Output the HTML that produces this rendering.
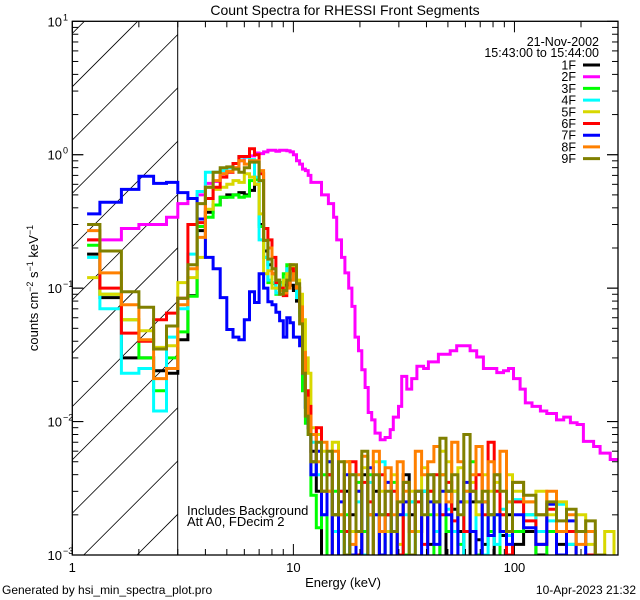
<!DOCTYPE html>
<html><head><meta charset="utf-8">
<style>
html,body{margin:0;padding:0;background:#fff;}
svg{display:block;font-family:"Liberation Sans",sans-serif;}
</style></head>
<body>
<svg id="chart" width="640" height="600" viewBox="0 0 640 600">
  <defs>
    <clipPath id="plotClip"><rect x="72.3" y="21.3" width="545.7" height="533.7"/></clipPath>
    <clipPath id="hatchClip"><rect x="72.3" y="21.3" width="105.4" height="533.7"/></clipPath>
  </defs>
  <rect x="0" y="0" width="640" height="600" fill="#fff"/>
  <text x="345" y="15" font-size="14" text-anchor="middle">Count Spectra for RHESSI Front Segments</text>
  <g id="hatch" clip-path="url(#hatchClip)"></g>
  <line x1="177.7" y1="21.3" x2="177.7" y2="555" stroke="#000" stroke-width="1"/>
  <g id="series" clip-path="url(#plotClip)"></g>
  <rect x="72.3" y="21.3" width="545.7" height="533.7" fill="none" stroke="#000" stroke-width="1.3"/>
  <g id="axes"></g>
  <text x="343" y="587" font-size="13" text-anchor="middle">Energy (keV)</text>
  <text transform="translate(38,288) rotate(-90)" font-size="13" text-anchor="middle">counts cm<tspan dy="-5" font-size="9">−2</tspan><tspan dy="5"> s</tspan><tspan dy="-5" font-size="9">−1</tspan><tspan dy="5"> keV</tspan><tspan dy="-5" font-size="9">−1</tspan></text>
  <text x="187" y="515" font-size="13">Includes Background</text>
  <text x="187" y="526" font-size="13">Att A0, FDecim 2</text>
  <text x="599" y="46" font-size="12.5" text-anchor="end">21-Nov-2002</text>
  <text x="599" y="57" font-size="12.5" text-anchor="end">15:43:00 to 15:44:00</text>
  <g id="legend"></g>
  <text x="2" y="594" font-size="12">Generated by hsi_min_spectra_plot.pro</text>
  <text x="636" y="594" font-size="12" text-anchor="end">10-Apr-2023 21:32</text>
</svg>
<script>
// ---- data ----
const seriesNames = ["1F","2F","3F","4F","5F","6F","7F","8F","9F"];
const seriesColors = ["#000000","#ff00ff","#00ff00","#00ffff","#d8d800","#ff0000","#0000ff","#ff8000","#808000"];
const eLow = [1.167,1.333,1.667,2,2.333,2.667,3,3.333,3.667,4,4.333,4.667,5,5.333,5.667,6,6.333,6.667,7,7.333,7.667,8,8.333,8.667,9,9.333,9.667,10,10.333,10.667,11,11.333,11.667,12];
const eHigh = [12,12.7,13.4,14.2,15,16,17,18,19.2,20.4,21.7,23,24.5,26,27.7,29.5,31.4,33.4,35.6,38,40.5,43.2,46,49,52,55.5,59,63,67,71.5,76,81,86,92,98,110,125,140,155,172,190,210,232,256,282,300];
const e2FHigh = [12,13.4,14.4,15.2,15.7,16.5,17.1,17.8,18.4,19.0,19.7,20.4,21.1,21.8,22.6,23.4,24.7,26.0,27.4,28.3,29.9,30.9,32.6,34.3,36.2,38.8,40.8,45.3,51.2,54.8,58.7,63.0,67.5,72.4,77.6,83.2,89.2,94.0,99,106,112,120,131,140,155,167,179,192,205,228,244,271,301];

const low1F = [0.18,0.085,0.03,0.03,0.024,0.023,0.041,0.088,0.27,0.37,0.42,0.48,0.5,0.5,0.52,0.5,0.54,0.6,0.3,0.19,0.15,0.128,0.1,0.11,0.105,0.128,0.105,0.096,0.08,0.066,0.023,0.0128,0.009];
const low2F = [0.23,0.23,0.28,0.30,0.30,0.34,0.43,0.47,0.5,0.61,0.63,0.72,0.75,0.8,0.9,0.96,0.98,1.03,1.02,1.05,1.08,1.08,1.06,1.08,1.08,1.07,1.05,1.0,0.9,0.85,0.78,0.76,0.7];
const low3F = [0.21,0.09,0.058,0.03,0.017,0.03,0.047,0.087,0.29,0.34,0.42,0.48,0.48,0.5,0.48,0.49,0.64,0.65,0.29,0.17,0.11,0.108,0.09,0.11,0.128,0.15,0.14,0.128,0.092,0.066,0.017,0.0097,0.008];
const low4F = [0.17,0.07,0.023,0.025,0.012,0.043,0.07,0.18,0.53,0.74,0.74,0.76,0.8,0.86,0.96,0.96,0.92,0.68,0.23,0.17,0.115,0.11,0.092,0.105,0.115,0.14,0.128,0.115,0.085,0.062,0.023,0.0128,0.0097];
const low5F = [0.12,0.09,0.058,0.048,0.036,0.037,0.11,0.12,0.17,0.39,0.55,0.57,0.6,0.64,0.62,0.72,0.68,0.6,0.36,0.128,0.135,0.1,0.1,0.096,0.115,0.128,0.15,0.14,0.115,0.09,0.058,0.03,0.023];
const low6F = [0.23,0.1,0.046,0.04,0.058,0.065,0.084,0.30,0.31,0.47,0.57,0.68,0.74,0.86,0.97,0.97,1.11,1.0,0.72,0.28,0.23,0.17,0.11,0.1,0.088,0.11,0.14,0.13,0.1,0.072,0.03,0.017,0.013];
const low7F = [0.36,0.44,0.55,0.69,0.61,0.62,0.52,0.47,0.33,0.17,0.14,0.085,0.049,0.043,0.041,0.058,0.094,0.078,0.128,0.1,0.079,0.075,0.066,0.057,0.043,0.06,0.055,0.043,0.043,0.037,0.023,0.0128,0.009];
const low8F = [0.27,0.13,0.075,0.041,0.021,0.025,0.075,0.14,0.24,0.57,0.64,0.72,0.75,0.8,0.9,0.85,0.9,0.9,0.76,0.228,0.2,0.128,0.115,0.096,0.092,0.1,0.115,0.128,0.1,0.072,0.033,0.015,0.011];
const low9F = [0.30,0.19,0.094,0.072,0.035,0.052,0.084,0.15,0.43,0.57,0.74,0.8,0.81,0.78,0.74,0.8,0.88,0.88,0.64,0.228,0.165,0.14,0.115,0.09,0.096,0.115,0.15,0.15,0.108,0.054,0.023,0.011,0.008];

const high1F = [0.006,0.003,0.0005,0.004,0.002,0.0005,0.003,0.002,0.0006,0.004,0.002,0.003,0.0005,0.002,0.0015,0.0008,0.004,0.002,0.0015,0.003,0.0012,0.0025,0.0006,0.003,0.0022,0.0015,0.0007,0.0025,0.0013,0.0012,0.002,0.0008,0.0014,0.002,0.0012,0.0015,0.001,0.0006,0.0012,0.0007,0.0008,0.0005,0.0006,0.0004,0.0003];
const high2F = [0.62,0.5,0.43,0.34,0.23,0.17,0.13,0.10,0.073,0.043,0.034,0.0245,0.018,0.0117,0.0103,0.0082,0.0073,0.0076,0.0087,0.0108,0.013,0.0218,0.0175,0.021,0.026,0.025,0.028,0.032,0.034,0.037,0.037,0.034,0.0305,0.025,0.025,0.0233,0.024,0.025,0.021,0.0175,0.0138,0.013,0.012,0.0115,0.0103,0.0108,0.0098,0.0095,0.0071,0.0065,0.0058,0.0052];
const high3F = [0.0028,0.0016,0.004,0.0005,0.003,0.0015,0.002,0.0006,0.0035,0.0015,0.004,0.0008,0.002,0.0005,0.0035,0.002,0.001,0.0025,0.0015,0.003,0.002,0.0009,0.004,0.0015,0.003,0.0012,0.0025,0.005,0.001,0.0025,0.0015,0.002,0.0007,0.0025,0.0015,0.002,0.0008,0.0015,0.0006,0.0012,0.0005,0.0009,0.0004,0.0006,0.0003];
const high4F = [0.007,0.004,0.002,0.005,0.0015,0.003,0.0009,0.004,0.0025,0.001,0.0035,0.002,0.005,0.0015,0.003,0.001,0.002,0.0025,0.0008,0.003,0.004,0.0015,0.002,0.0022,0.0015,0.0008,0.003,0.0015,0.0025,0.001,0.002,0.0012,0.0022,0.0014,0.0026,0.002,0.0015,0.0018,0.0024,0.0012,0.0015,0.0008,0.0006,0.0005,0.0004];
const high5F = [0.009,0.008,0.006,0.003,0.007,0.002,0.005,0.0015,0.003,0.0045,0.002,0.005,0.003,0.0015,0.004,0.0012,0.0025,0.003,0.0015,0.0045,0.003,0.002,0.006,0.005,0.003,0.0045,0.0025,0.0035,0.002,0.004,0.003,0.0035,0.002,0.004,0.003,0.0025,0.003,0.002,0.0025,0.0015,0.002,0.0012,0.001,0.0015,0.0008];
const high6F = [0.005,0.009,0.003,0.004,0.0007,0.003,0.0015,0.005,0.001,0.0035,0.0025,0.0006,0.004,0.002,0.003,0.001,0.0035,0.0015,0.0025,0.0012,0.003,0.004,0.002,0.0035,0.0018,0.0025,0.0015,0.003,0.004,0.002,0.007,0.003,0.002,0.001,0.0025,0.0018,0.0012,0.0022,0.001,0.0015,0.0008,0.001,0.0005,0.0006,0.0004];
const high7F = [0.004,0.006,0.002,0.005,0.0005,0.0025,0.004,0.001,0.003,0.0006,0.0045,0.002,0.001,0.0035,0.0005,0.002,0.0025,0.0015,0.003,0.0008,0.0025,0.0012,0.003,0.002,0.0007,0.0025,0.0035,0.0015,0.0009,0.0025,0.0014,0.002,0.0015,0.0012,0.002,0.0016,0.0012,0.0024,0.001,0.0018,0.0009,0.0015,0.0006,0.0005,0.0004];
const high8F = [0.008,0.005,0.007,0.003,0.006,0.002,0.005,0.0012,0.004,0.0055,0.002,0.006,0.0015,0.0045,0.002,0.005,0.003,0.0015,0.006,0.004,0.005,0.0065,0.004,0.0025,0.007,0.005,0.003,0.004,0.0065,0.0025,0.005,0.004,0.006,0.0025,0.0035,0.0025,0.002,0.003,0.0015,0.002,0.0012,0.0015,0.001,0.0008,0.0006];
const high9F = [0.005,0.007,0.003,0.006,0.002,0.005,0.001,0.004,0.0015,0.006,0.0008,0.004,0.002,0.003,0.0015,0.0025,0.0035,0.001,0.003,0.002,0.004,0.0025,0.0075,0.003,0.004,0.002,0.008,0.003,0.0025,0.003,0.002,0.004,0.003,0.0015,0.0035,0.0028,0.002,0.0025,0.0018,0.0022,0.0015,0.0018,0.001,0.0008,0.0005];

const xMajorTicks = [1,10,100];
const xTickLabels = ["1","10","100"];
const yMajorTicks = [1e-3,1e-2,1e-1,1,10];
const yTickExponents = ["−3","−2","−1","0","1"];

// ---- axis functions ----
const X0=72.3, X1=618, Y0=21.3, Y1=555;
const xLogMin=0, xLogMax=Math.log10(294);
const yLogMin=-3, yLogMax=1;
function xs(e){return X0+(Math.log10(e)-xLogMin)/(xLogMax-xLogMin)*(X1-X0);}
function ys(v){return Y1-(Math.log10(Math.max(v,1e-5))-yLogMin)/(yLogMax-yLogMin)*(Y1-Y0);}
const NS="http://www.w3.org/2000/svg";
function mk(tag,attrs,parent){const el=document.createElementNS(NS,tag);for(const k in attrs)el.setAttribute(k,attrs[k]);parent.appendChild(el);return el;}

// hatch
const hatch=document.getElementById('hatch');
for(let k=-2;k<=12;k++){
  const c=159+53.3*k;
  const ln=mk('line',{x1:c-600,y1:600,x2:c,y2:0,stroke:'#000','stroke-width':0.8},hatch);
  
  
}

// series
const lowSets=[low1F,low2F,low3F,low4F,low5F,low6F,low7F,low8F,low9F];
const highSets=[high1F,high2F,high3F,high4F,high5F,high6F,high7F,high8F,high9F];
function stepPath(edges,vals){
  let d='';
  const n=Math.min(vals.length,edges.length-1);
  for(let i=0;i<n;i++){
    const xa=xs(edges[i]).toFixed(1), xb=xs(edges[i+1]).toFixed(1), y=ys(vals[i]).toFixed(1);
    d+= (i===0?'M'+xa+','+y:'V'+y)+'H'+xb;
  }
  return d;
}
const sg=document.getElementById('series');
for(let s=0;s<seriesNames.length;s++){
  const hiEdges = s===1 ? e2FHigh : eHigh;
  const d=stepPath(eLow,lowSets[s])+stepPath(hiEdges,highSets[s]).replace(/^M/,'L');
  const p=mk('path',{d:d,fill:'none',stroke:seriesColors[s],'stroke-width':3,'stroke-linejoin':'miter'},sg);
  
  
}

// axes ticks
const ax=document.getElementById('axes');
for(let dec=0;dec<=2;dec++){
  for(let m=1;m<=9;m++){
    const e=m*Math.pow(10,dec);
    if(e>294)continue;
    const x=xs(e), L=(m===1)?11:6;
    const t1=mk('line',{x1:x,y1:Y1,x2:x,y2:Y1-L,stroke:'#000','stroke-width':1},ax);
    
    
    const t2=mk('line',{x1:x,y1:Y0,x2:x,y2:Y0+L,stroke:'#000','stroke-width':1},ax);
    
    
  }
}
xMajorTicks.forEach((e,i)=>{
  const t=mk('text',{x:xs(e),y:572,'font-size':13,'text-anchor':'middle'},ax);
  t.textContent=xTickLabels[i];
  
  
});
for(let dec=-3;dec<=0;dec++){
  for(let m=1;m<=10;m++){
    const v=m*Math.pow(10,dec);
    const y=ys(v), L=(m===1||m===10)?11:6;
    const t1=mk('line',{x1:X0,y1:y,x2:X0+L,y2:y,stroke:'#000','stroke-width':1},ax);
    
    
    const t2=mk('line',{x1:X1,y1:y,x2:X1-L,y2:y,stroke:'#000','stroke-width':1},ax);
    
    
  }
}
yMajorTicks.forEach((v,i)=>{
  const t=mk('text',{x:62,y:ys(v)+5,'font-size':13,'text-anchor':'end'},ax);
  t.textContent='10';
  
  
  const sup=mk('text',{x:63,y:ys(v)-1,'font-size':9,'text-anchor':'start'},ax);
  sup.textContent=yTickExponents[i];
  
  
});

// legend
const lg=document.getElementById('legend');
seriesNames.forEach((n,i)=>{
  const y=65+i*11.7;
  const t=mk('text',{x:576,y:y+4.5,'font-size':12.5,'text-anchor':'end'},lg);
  t.textContent=n;
  
  
  const l=mk('line',{x1:583,y1:y,x2:600,y2:y,stroke:seriesColors[i],'stroke-width':3},lg);
  
  
});
</script>
</body></html>
